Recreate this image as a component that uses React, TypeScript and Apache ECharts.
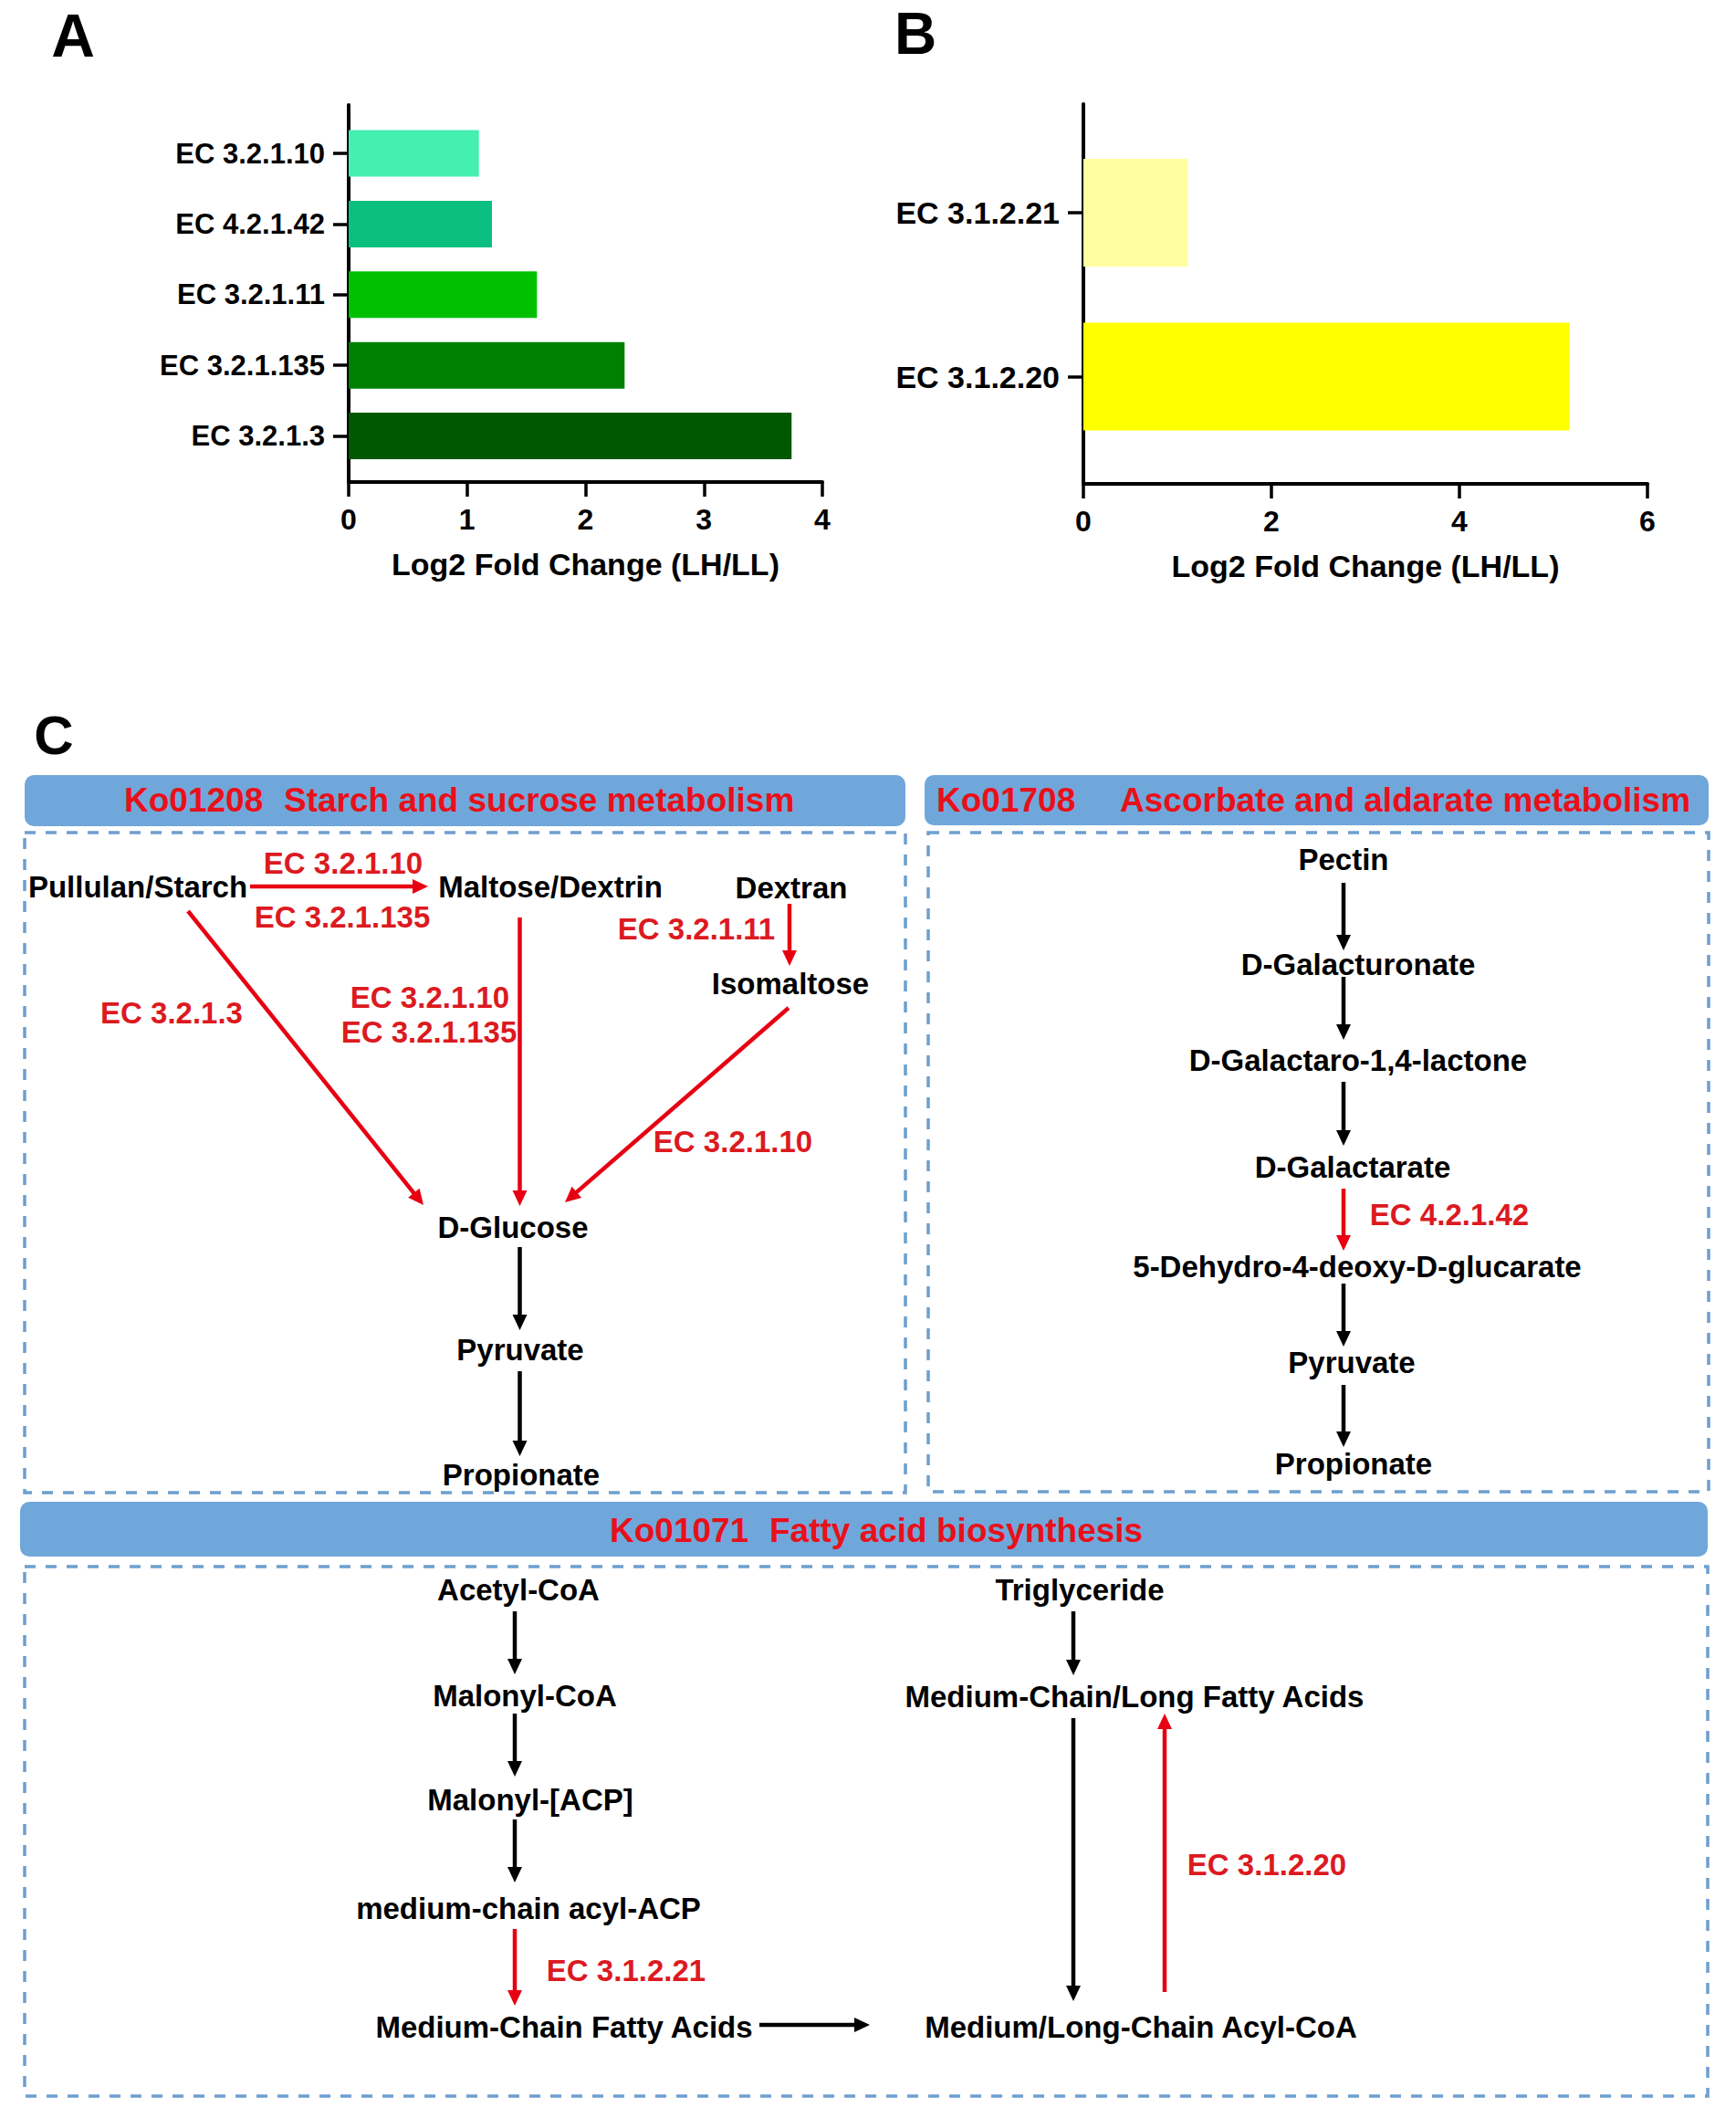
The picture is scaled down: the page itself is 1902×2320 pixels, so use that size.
import React, { useEffect, useRef } from "react";
import * as echarts from "echarts";

// ---------- Data ----------
const catsA = ["EC 3.2.1.10", "EC 4.2.1.42", "EC 3.2.1.11", "EC 3.2.1.135", "EC 3.2.1.3"];
const valsA = [1.1, 1.21, 1.59, 2.33, 3.74];
const colorsA = ["#45EFAF", "#0BBF80", "#00C000", "#008000", "#005800"];

const catsB = ["EC 3.1.2.21", "EC 3.1.2.20"];
const valsB = [1.11, 5.17];
const colorsB = ["#FFFFA2", "#FFFF00"];

const axisTitle = "Log2 Fold Change (LH/LL)";

// ---------- Panel C diagram (layout) ----------
const FONT = "'Liberation Sans', Arial, Helvetica, sans-serif";
const RED_TXT = "#DC1A1F";
const RED_ARW = "#E60012";

const headers = [
  { x: 27, y: 849, w: 965, h: 56, parts: [{ t: "Ko01208", x: 136 }, { t: "Starch and sucrose metabolism", x: 311 }], ty: 876 },
  { x: 1013, y: 849, w: 859, h: 55, parts: [{ t: "Ko01708", x: 1026 }, { t: "Ascorbate and aldarate metabolism", x: 1227 }], ty: 876 },
  { x: 22, y: 1645, w: 1849, h: 60, parts: [{ t: "Ko01071", x: 668 }, { t: "Fatty acid biosynthesis", x: 843 }], ty: 1676 },
];

const dashedBoxes = [
  [27, 912, 965, 723],
  [1017, 912, 855, 722],
  [27, 1716, 1844, 580],
];

// [text, cx, cy]
const blackNodes: [string, number, number][] = [
  ["Pullulan/Starch", 151, 971],
  ["Maltose/Dextrin", 603, 971],
  ["Dextran", 867, 972],
  ["Isomaltose", 866, 1077],
  ["D-Glucose", 562, 1344],
  ["Pyruvate", 570, 1478],
  ["Propionate", 571, 1615],
  ["Pectin", 1472, 941],
  ["D-Galacturonate", 1488, 1056],
  ["D-Galactaro-1,4-lactone", 1488, 1161],
  ["D-Galactarate", 1482, 1278],
  ["5-Dehydro-4-deoxy-D-glucarate", 1487, 1387],
  ["Pyruvate", 1481, 1492],
  ["Propionate", 1483, 1603],
  ["Acetyl-CoA", 568, 1741],
  ["Malonyl-CoA", 575, 1857],
  ["Malonyl-[ACP]", 581, 1971],
  ["medium-chain acyl-ACP", 579, 2090],
  ["Medium-Chain Fatty Acids", 618, 2220],
  ["Triglyceride", 1183, 1741],
  ["Medium-Chain/Long Fatty Acids", 1243, 1858],
  ["Medium/Long-Chain Acyl-CoA", 1250, 2220],
];

const redLabels: [string, number, number][] = [
  ["EC 3.2.1.10", 376, 945],
  ["EC 3.2.1.135", 375, 1004],
  ["EC 3.2.1.11", 763, 1017],
  ["EC 3.2.1.3", 188, 1109],
  ["EC 3.2.1.10", 471, 1092],
  ["EC 3.2.1.135", 470, 1130],
  ["EC 3.2.1.10", 803, 1250],
  ["EC 4.2.1.42", 1588, 1330],
  ["EC 3.1.2.21", 686, 2158],
  ["EC 3.1.2.20", 1388, 2042],
];

// [x1, y1, x2, y2, red?]
const arrows: [number, number, number, number, boolean][] = [
  [274, 971, 469, 971, true],
  [865, 990, 865, 1058, true],
  [206, 998, 464, 1320, true],
  [569.5, 1005, 569.5, 1321, true],
  [864, 1104, 619, 1317, true],
  [569.5, 1366, 569.5, 1457, false],
  [569.5, 1502, 569.5, 1595, false],
  [1472, 967, 1472, 1041, false],
  [1472, 1070, 1472, 1139, false],
  [1472, 1185, 1472, 1255, false],
  [1472, 1302, 1472, 1370, true],
  [1472, 1406, 1472, 1475, false],
  [1472, 1517, 1472, 1585, false],
  [564, 1765, 564, 1834, false],
  [564, 1877, 564, 1946, false],
  [564, 1993, 564, 2062, false],
  [564, 2113, 564, 2197, true],
  [832, 2218, 953, 2218, false],
  [1176, 1765, 1176, 1835, false],
  [1176, 1882, 1176, 2192, false],
  [1276, 2182, 1276, 1877, true],
];

function buildGraphic() {
  const els: any[] = [];
  // panel letters
  els.push({ type: "text", x: 80, y: 39, style: { text: "A", fill: "#000", fontSize: 66, fontWeight: "bold", fontFamily: FONT, align: "center", verticalAlign: "middle" } });
  els.push({ type: "text", x: 1003, y: 37, style: { text: "B", fill: "#000", fontSize: 64, fontWeight: "bold", fontFamily: FONT, align: "center", verticalAlign: "middle" } });
  els.push({ type: "text", x: 59, y: 805, style: { text: "C", fill: "#000", fontSize: 60, fontWeight: "bold", fontFamily: FONT, align: "center", verticalAlign: "middle" } });

  headers.forEach((h) => {
    els.push({ type: "rect", shape: { x: h.x, y: h.y, width: h.w, height: h.h, r: 10 }, style: { fill: "#70A7DA" } });
    h.parts.forEach((p) => {
      els.push({ type: "text", x: p.x, y: h.ty, style: { text: p.t, fill: "#E8101A", fontSize: 37, fontWeight: "bold", fontFamily: FONT, align: "left", verticalAlign: "middle" } });
    });
  });
  dashedBoxes.forEach(([x, y, w, hh]) => {
    els.push({ type: "rect", shape: { x, y, width: w, height: hh }, style: { fill: "none", stroke: "#6E9FCF", lineWidth: 3.5, lineDash: [12, 11] } });
  });
  arrows.forEach(([x1, y1, x2, y2, red]) => {
    const col = red ? RED_ARW : "#000";
    const dx = x2 - x1, dy = y2 - y1;
    const len = Math.sqrt(dx * dx + dy * dy);
    const ux = dx / len, uy = dy / len;
    const hl = 17, hw = 8;
    const bx = x2 - ux * hl, by = y2 - uy * hl;
    els.push({ type: "line", shape: { x1, y1, x2: bx + ux * 2, y2: by + uy * 2 }, style: { stroke: col, lineWidth: 4.5 } });
    els.push({
      type: "polygon",
      shape: { points: [[x2, y2], [bx - uy * hw, by + ux * hw], [bx + uy * hw, by - ux * hw]] },
      style: { fill: col },
    });
  });
  blackNodes.forEach(([t, x, y]) => {
    els.push({ type: "text", x, y, style: { text: t, fill: "#000", fontSize: 33, fontWeight: "bold", fontFamily: FONT, align: "center", verticalAlign: "middle" } });
  });
  redLabels.forEach(([t, x, y]) => {
    els.push({ type: "text", x, y, style: { text: t, fill: RED_TXT, fontSize: 33, fontWeight: "bold", fontFamily: FONT, align: "center", verticalAlign: "middle" } });
  });
  return els;
}

const labelStyle = (size: number) => ({ fontSize: size, fontWeight: "bold" as const, color: "#000", fontFamily: FONT });

export default function App() {
  const ref = useRef<HTMLDivElement>(null);
  useEffect(() => {
    if (!ref.current) return;
    const chart = echarts.init(ref.current, undefined, { renderer: "svg" });
    const valueAxisVisible = (grid: number, max: number, interval: number) => ({
      gridIndex: grid,
      type: "value",
      min: 0,
      max,
      interval,
      axisLine: { show: true, lineStyle: { color: "#000", width: 4 } },
      axisTick: { show: true, length: 16, lineStyle: { color: "#000", width: 3.5 } },
      axisLabel: { margin: 25, ...labelStyle(32) },
      splitLine: { show: false },
      name: axisTitle,
      nameLocation: "middle",
      nameGap: 73,
      nameTextStyle: labelStyle(34),
    });
    const hiddenX = (grid: number, max: number) => ({ gridIndex: grid, type: "value", min: 0, max, show: false });
    const catAxis = (grid: number, data: string[], size: number) => ({
      gridIndex: grid,
      type: "category",
      data,
      inverse: true,
      axisLine: { show: false },
      axisTick: { show: true, length: 17, alignWithLabel: true, lineStyle: { color: "#000", width: 3.5 } },
      axisLabel: { margin: 26, ...labelStyle(size) },
    });
    const lineY = (grid: number) => ({
      gridIndex: grid,
      type: "value",
      min: 0,
      max: 1,
      axisLine: { show: true, lineStyle: { color: "#000", width: 4 } },
      axisTick: { show: false },
      axisLabel: { show: false },
      splitLine: { show: false },
    });

    chart.setOption({
      animation: false,
      backgroundColor: "#fff",
      grid: [
        { left: 382, top: 129.3, width: 519, height: 387 },
        { left: 382, top: 115, width: 519, height: 413 },
        { left: 1187, top: 143.25, width: 618, height: 359 },
        { left: 1187, top: 114, width: 618, height: 416 },
      ],
      xAxis: [hiddenX(0, 4), valueAxisVisible(1, 4, 1), hiddenX(2, 6), valueAxisVisible(3, 6, 2)],
      yAxis: [catAxis(0, catsA, 31), lineY(1), catAxis(2, catsB, 34), lineY(3)],
      series: [
        {
          type: "bar",
          xAxisIndex: 0,
          yAxisIndex: 0,
          barWidth: 51,
          data: valsA.map((v, i) => ({ value: v, itemStyle: { color: colorsA[i] } })),
        },
        {
          type: "bar",
          xAxisIndex: 2,
          yAxisIndex: 2,
          barWidth: 118,
          data: valsB.map((v, i) => ({ value: v, itemStyle: { color: colorsB[i] } })),
        },
      ],
      graphic: buildGraphic(),
    });
    return () => chart.dispose();
  }, []);
  return <div ref={ref} style={{ position: "absolute", left: 0, top: 0, width: 1902, height: 2320, background: "#fff" }} />;
}
